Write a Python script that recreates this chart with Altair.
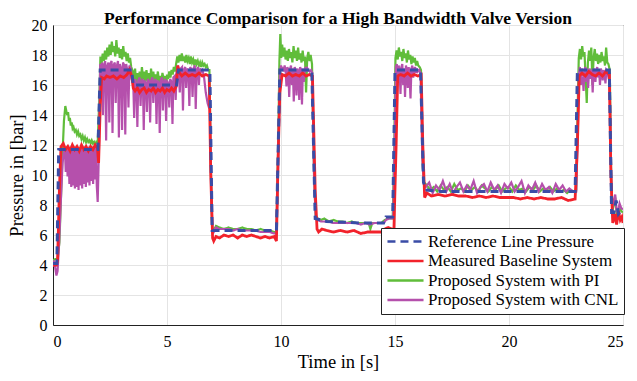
import altair as alt
import pandas as pd

SERIES = ["Reference Line Pressure", "Measured Baseline System",
          "Proposed System with PI", "Proposed System with CNL"]
COLORS = ["#3a4ca6", "#f2222b", "#60bd3a", "#b550ac"]
DASHES = [[8, 5], [1, 0], [1, 0], [1, 0]]
X_TICKS = [0, 5, 10, 15, 20, 25]
Y_TICKS = [0, 2, 4, 6, 8, 10, 12, 14, 16, 18, 20]
FONT = "Liberation Serif, Times New Roman, serif"

ref_pts = [(0.00, 4.1), (0.17, 4.1), (0.25, 11.7), (1.97, 11.7), (2.07, 17.0), (3.45, 17.0),
           (3.52, 16.0), (5.42, 16.0), (5.50, 17.0), (6.88, 17.0), (6.98, 6.3), (9.80, 6.3),
           (9.95, 17.0), (11.35, 17.0), (11.50, 7.1), (12.00, 6.9), (13.50, 6.8), (14.50, 6.8),
           (14.60, 7.2), (14.90, 7.2), (15.00, 17.0), (16.12, 17.0), (16.25, 9.5), (16.40, 9.0),
           (17.00, 8.9), (22.90, 8.9), (23.00, 17.0), (24.40, 17.0), (24.50, 7.5), (24.60, 7.5),
           (24.70, 8.3), (24.80, 7.4), (24.90, 7.6), (25.00, 7.5)]

baseline_pts = [(0.00, 4.0), (0.15, 4.0), (0.20, 4.3), (0.28, 9.0), (0.35, 11.9), (0.45, 12.1),
                (0.55, 11.7), (0.65, 11.9), (0.75, 11.6), (0.85, 12.0), (0.95, 11.7), (1.05, 11.9),
                (1.15, 11.6), (1.25, 12.0), (1.35, 11.7), (1.45, 11.9), (1.55, 11.6), (1.65, 11.9),
                (1.75, 11.7), (1.85, 12.0), (1.95, 11.8), (2.00, 10.8), (2.07, 14.5), (2.13, 16.5),
                (2.25, 16.4), (2.35, 16.6), (2.50, 16.5), (2.65, 16.6), (2.80, 16.4), (2.95, 16.6),
                (3.10, 16.5), (3.25, 16.7), (3.35, 17.0), (3.45, 16.6), (3.52, 15.8), (3.60, 15.6),
                (3.70, 15.8), (3.80, 15.5), (3.90, 15.7), (4.00, 15.8), (4.10, 15.5), (4.20, 15.7),
                (4.30, 15.6), (4.40, 15.8), (4.50, 15.5), (4.60, 15.7), (4.70, 15.6), (4.80, 15.8),
                (4.90, 15.5), (5.00, 15.7), (5.10, 15.6), (5.20, 15.8), (5.30, 15.6), (5.40, 15.9),
                (5.47, 17.3), (5.55, 16.8), (5.65, 16.6), (5.80, 16.8), (5.95, 16.6), (6.10, 16.7),
                (6.25, 16.6), (6.40, 16.8), (6.55, 16.6), (6.70, 16.7), (6.85, 16.6), (6.92, 10.0),
                (7.00, 5.8), (7.05, 5.6), (7.15, 5.9), (7.30, 5.8), (7.50, 6.0), (7.70, 5.9),
                (7.90, 6.0), (8.10, 5.8), (8.30, 6.0), (8.50, 5.9), (8.70, 6.0), (8.90, 5.9),
                (9.10, 5.8), (9.30, 5.9), (9.50, 5.8), (9.70, 5.9), (9.80, 5.6), (9.87, 11.0),
                (9.95, 15.5), (10.05, 16.7), (10.20, 16.6), (10.35, 16.8), (10.50, 16.6), (10.65, 16.7),
                (10.80, 16.6), (10.95, 16.8), (11.10, 16.6), (11.25, 16.7), (11.38, 16.6), (11.50, 9.0),
                (11.58, 6.4), (11.65, 6.2), (11.80, 6.4), (12.00, 6.3), (12.30, 6.2), (12.60, 6.3),
                (12.90, 6.2), (13.20, 6.3), (13.50, 6.1), (13.80, 6.2), (14.10, 6.2), (14.40, 6.2),
                (14.55, 6.4), (14.70, 6.5), (14.85, 6.4), (14.95, 6.2), (15.05, 12.0), (15.12, 16.6),
                (15.25, 16.7), (15.40, 16.6), (15.55, 16.8), (15.70, 16.6), (15.85, 16.7), (16.00, 16.6),
                (16.15, 16.7), (16.22, 12.0), (16.30, 8.5), (16.40, 8.8), (16.60, 8.6), (16.90, 8.7),
                (17.20, 8.6), (17.50, 8.7), (17.80, 8.6), (18.10, 8.6), (18.40, 8.5), (18.70, 8.6),
                (19.00, 8.5), (19.30, 8.6), (19.60, 8.5), (19.90, 8.5), (20.20, 8.5), (20.50, 8.4),
                (20.80, 8.5), (21.10, 8.4), (21.40, 8.5), (21.70, 8.4), (22.00, 8.4), (22.30, 8.5),
                (22.60, 8.3), (22.90, 8.4), (23.00, 12.0), (23.08, 16.6), (23.20, 16.8), (23.35, 16.6),
                (23.50, 16.9), (23.65, 16.7), (23.80, 16.6), (23.95, 16.8), (24.10, 16.6), (24.25, 16.9),
                (24.40, 16.7), (24.47, 10.0), (24.55, 6.8), (24.65, 7.4), (24.72, 6.7), (24.80, 7.6),
                (24.88, 7.0), (24.95, 7.2), (25.00, 6.8)]

pi_pts = [(0.00, 4.3), (0.10, 4.4), (0.20, 4.4), (0.28, 5.5), (0.35, 8.5), (0.42, 11.5), (0.48, 13.6),
          (0.54, 14.6), (0.58, 14.3), (0.62, 14.0), (0.66, 14.2), (0.70, 13.6), (0.74, 13.8),
          (0.78, 13.3), (0.82, 13.5), (0.86, 13.1), (0.90, 13.2), (0.95, 12.9), (1.00, 13.0),
          (1.05, 12.7), (1.10, 12.9), (1.15, 12.6), (1.20, 12.7), (1.25, 12.4), (1.30, 12.6),
          (1.35, 12.3), (1.40, 12.5), (1.45, 12.2), (1.50, 12.4), (1.55, 12.2), (1.60, 12.3),
          (1.65, 12.1), (1.70, 12.3), (1.75, 12.1), (1.80, 12.2), (1.85, 12.0), (1.90, 12.2),
          (1.96, 12.1), (2.03, 15.0), (2.08, 17.9), (2.13, 17.4), (2.18, 18.1), (2.23, 17.6),
          (2.28, 18.3), (2.33, 17.7), (2.38, 18.5), (2.43, 17.9), (2.48, 18.7), (2.53, 18.0),
          (2.58, 18.9), (2.63, 18.2), (2.68, 18.6), (2.73, 17.9), (2.78, 19.0), (2.83, 18.1),
          (2.88, 18.5), (2.93, 17.8), (2.98, 18.4), (3.03, 17.7), (3.08, 18.6), (3.13, 17.9),
          (3.18, 18.2), (3.23, 17.6), (3.28, 18.1), (3.33, 17.5), (3.38, 17.8), (3.43, 17.2),
          (3.50, 16.9), (3.55, 16.3), (3.60, 17.1), (3.65, 16.0), (3.70, 16.8), (3.75, 15.4),
          (3.80, 16.9), (3.85, 16.2), (3.90, 17.2), (3.95, 16.4), (4.00, 16.9), (4.05, 16.1),
          (4.10, 17.0), (4.15, 16.3), (4.20, 16.8), (4.25, 15.8), (4.30, 17.1), (4.35, 16.4),
          (4.40, 16.9), (4.45, 16.2), (4.50, 16.7), (4.55, 16.3), (4.60, 16.9), (4.65, 16.1),
          (4.70, 16.6), (4.75, 16.2), (4.80, 16.8), (4.85, 16.4), (4.90, 16.6), (4.95, 15.6),
          (5.00, 16.7), (5.05, 16.4), (5.10, 16.9), (5.15, 16.5), (5.20, 17.0), (5.25, 16.7),
          (5.30, 17.2), (5.35, 16.9), (5.40, 17.4), (5.45, 17.9), (5.50, 17.5), (5.55, 18.0),
          (5.60, 17.6), (5.65, 18.1), (5.70, 17.6), (5.75, 17.9), (5.80, 17.5), (5.85, 18.0),
          (5.90, 17.6), (5.95, 17.8), (6.00, 17.4), (6.05, 17.9), (6.10, 17.5), (6.15, 17.7),
          (6.20, 17.3), (6.25, 17.7), (6.30, 17.4), (6.35, 17.6), (6.40, 17.3), (6.45, 17.5),
          (6.50, 17.2), (6.55, 17.5), (6.60, 17.3), (6.65, 17.4), (6.70, 17.2), (6.75, 17.3),
          (6.80, 17.0), (6.86, 17.0), (6.93, 10.0), (6.98, 6.5), (7.05, 6.3), (7.15, 6.6),
          (7.30, 6.5), (7.50, 6.4), (7.70, 6.5), (7.90, 6.4), (8.10, 6.4), (8.30, 6.5),
          (8.50, 6.4), (8.70, 6.4), (8.90, 6.3), (9.10, 6.4), (9.30, 6.3), (9.50, 6.3),
          (9.70, 6.2), (9.80, 6.2), (9.88, 12.0), (9.93, 17.6), (9.97, 19.4), (10.01, 17.8),
          (10.05, 18.7), (10.10, 17.9), (10.15, 18.5), (10.20, 17.7), (10.25, 18.3), (10.30, 17.6),
          (10.35, 18.4), (10.40, 17.8), (10.45, 18.2), (10.50, 17.5), (10.55, 18.6), (10.60, 17.8),
          (10.65, 18.3), (10.70, 17.6), (10.75, 18.5), (10.80, 17.7), (10.85, 18.1), (10.90, 17.5),
          (10.95, 18.3), (11.00, 17.6), (11.05, 17.9), (11.10, 15.5), (11.15, 17.8), (11.20, 18.2),
          (11.25, 17.6), (11.30, 18.0), (11.36, 17.4), (11.45, 10.0), (11.52, 7.3), (11.60, 7.1),
          (11.75, 7.0), (11.90, 7.1), (12.10, 6.9), (12.30, 7.0), (12.50, 6.9), (12.70, 6.9),
          (12.90, 6.8), (13.10, 6.9), (13.30, 6.8), (13.50, 6.8), (13.70, 6.8), (13.85, 6.8),
          (13.92, 6.4), (14.00, 6.8), (14.20, 6.8), (14.40, 6.8), (14.55, 7.0), (14.70, 7.1),
          (14.90, 7.1), (14.97, 12.0), (15.02, 17.8), (15.07, 18.3), (15.12, 17.7), (15.17, 18.5),
          (15.22, 17.9), (15.27, 18.2), (15.32, 17.6), (15.37, 18.4), (15.42, 17.8), (15.47, 18.1),
          (15.52, 17.5), (15.57, 18.3), (15.62, 17.7), (15.67, 18.0), (15.72, 17.4), (15.77, 17.9),
          (15.82, 17.5), (15.87, 17.8), (15.92, 17.3), (15.97, 17.6), (16.02, 17.3), (16.08, 17.2),
          (16.14, 17.0), (16.22, 10.5), (16.28, 9.5),
          (16.40, 9.3), (16.55, 9.0), (16.70, 9.2), (16.85, 8.9), (17.00, 9.3), (17.15, 9.0),
          (17.30, 9.2), (17.45, 8.9), (17.60, 9.4), (17.75, 9.0), (17.90, 9.1), (18.05, 8.9),
          (18.20, 9.3), (18.35, 9.0), (18.50, 9.2), (18.65, 8.9), (18.80, 9.3), (18.95, 9.1),
          (19.10, 8.9), (19.25, 9.2), (19.40, 9.0), (19.55, 9.3), (19.70, 8.9), (19.85, 9.1),
          (20.00, 9.2), (20.15, 8.9), (20.30, 9.3), (20.45, 9.0), (20.60, 9.1), (20.75, 8.9),
          (20.90, 9.2), (21.05, 9.0), (21.20, 9.3), (21.35, 8.9), (21.50, 9.1), (21.65, 9.0),
          (21.80, 9.2), (21.95, 8.9), (22.10, 9.1), (22.25, 8.9), (22.40, 9.0), (22.55, 8.8),
          (22.70, 9.0), (22.85, 8.9), (22.95, 9.0),
          (23.02, 15.0), (23.06, 17.8), (23.11, 18.4), (23.16, 17.7), (23.21, 18.6), (23.26, 17.9),
          (23.31, 18.2), (23.36, 16.5), (23.41, 14.8), (23.46, 17.5), (23.51, 18.3), (23.56, 17.6),
          (23.61, 18.5), (23.66, 16.0), (23.71, 17.8), (23.76, 18.4), (23.81, 17.6), (23.86, 18.1),
          (23.91, 17.4), (23.96, 18.0), (24.01, 17.5), (24.06, 18.2), (24.11, 17.6), (24.16, 17.9),
          (24.21, 17.3), (24.26, 18.5), (24.31, 17.5), (24.36, 17.4), (24.42, 17.0), (24.48, 10.0),
          (24.53, 7.6), (24.60, 8.0), (24.66, 8.5), (24.72, 7.4), (24.78, 7.3), (24.85, 7.9),
          (24.92, 7.6), (25.00, 7.5)]

cnl_pts = [(0.00, 3.9), (0.06, 4.3), (0.10, 3.8), (0.15, 3.3), (0.20, 3.6), (0.27, 5.5), (0.35, 8.5),
           (0.42, 10.8), (0.48, 11.6), (0.52, 11.8), (0.56, 10.2), (0.60, 11.9), (0.64, 9.9),
           (0.68, 11.7), (0.72, 9.4), (0.76, 11.9), (0.80, 9.2), (0.84, 11.8), (0.88, 9.3),
           (0.92, 11.9), (0.96, 9.1), (1.00, 11.7), (1.04, 9.2), (1.08, 11.9), (1.12, 9.0),
           (1.16, 11.8), (1.20, 9.3), (1.24, 11.9), (1.28, 9.1), (1.32, 11.7), (1.36, 9.4),
           (1.40, 11.9), (1.44, 9.2), (1.48, 11.8), (1.52, 9.5), (1.56, 11.9), (1.60, 9.3),
           (1.64, 11.7), (1.68, 9.6), (1.72, 11.9), (1.76, 9.4), (1.80, 11.8), (1.84, 9.7),
           (1.88, 11.9), (1.92, 9.3), (1.96, 8.2), (2.02, 12.0), (2.07, 17.4), (2.11, 16.9),
           (2.15, 17.5), (2.19, 14.0), (2.23, 17.3), (2.29, 17.6), (2.33, 12.3), (2.37, 17.2),
           (2.43, 17.5), (2.47, 13.5), (2.51, 17.4), (2.57, 17.6), (2.61, 12.8), (2.65, 17.3),
           (2.71, 17.5), (2.75, 14.8), (2.79, 17.2), (2.85, 17.6), (2.89, 12.5), (2.93, 17.4),
           (2.99, 17.1), (3.03, 13.0), (3.07, 17.5), (3.13, 17.3), (3.17, 12.7), (3.21, 17.4),
           (3.27, 16.9), (3.31, 14.5), (3.35, 17.3), (3.41, 17.1), (3.45, 16.4),
           (3.52, 16.2), (3.56, 13.8), (3.60, 16.4), (3.66, 16.0), (3.70, 13.2), (3.74, 16.3),
           (3.80, 16.5), (3.84, 14.6), (3.88, 16.2), (3.94, 16.4), (3.98, 13.0), (4.02, 16.3),
           (4.08, 16.1), (4.12, 14.2), (4.16, 16.4), (4.22, 16.2), (4.26, 13.5), (4.30, 16.3),
           (4.36, 16.5), (4.40, 14.8), (4.44, 16.2), (4.50, 16.4), (4.54, 13.4), (4.58, 16.3),
           (4.64, 16.1), (4.68, 12.8), (4.72, 16.3), (4.78, 16.5), (4.82, 14.3), (4.86, 16.2),
           (4.92, 16.4), (4.96, 13.6), (5.00, 16.3), (5.06, 16.1), (5.10, 14.5), (5.14, 16.4),
           (5.20, 16.2), (5.24, 13.4), (5.28, 16.5), (5.34, 16.6), (5.38, 15.0), (5.42, 16.8),
           (5.48, 17.3), (5.52, 16.8), (5.56, 15.5), (5.60, 17.1), (5.66, 17.2), (5.70, 14.3),
           (5.74, 17.0), (5.80, 17.2), (5.84, 15.8), (5.88, 17.1), (5.94, 16.9), (5.98, 14.6),
           (6.02, 17.2), (6.08, 17.0), (6.12, 15.2), (6.16, 17.1), (6.22, 17.3), (6.26, 14.4),
           (6.30, 17.0), (6.36, 17.2), (6.40, 16.0), (6.44, 17.1), (6.50, 16.9),
           (6.55, 17.0), (6.62, 16.6), (6.70, 15.5), (6.78, 14.8), (6.84, 14.5),
           (6.88, 14.4), (6.94, 9.0), (6.99, 6.4), (7.05, 6.2), (7.15, 6.5), (7.30, 6.4),
           (7.50, 6.4), (7.70, 6.4), (7.90, 6.3), (8.10, 6.4), (8.30, 6.3), (8.50, 6.3),
           (8.70, 6.3), (8.90, 6.3), (9.10, 6.2), (9.30, 6.2), (9.50, 6.2), (9.70, 6.1),
           (9.80, 6.1), (9.88, 11.0), (9.95, 16.8), (10.00, 17.3), (10.04, 17.0), (10.08, 17.2),
           (10.12, 16.9), (10.16, 17.3), (10.20, 17.0), (10.24, 15.9), (10.28, 17.2), (10.32, 17.0),
           (10.36, 15.2), (10.40, 17.1), (10.44, 17.3), (10.48, 16.0), (10.52, 17.1), (10.56, 14.9),
           (10.60, 17.2), (10.64, 17.0), (10.68, 15.3), (10.72, 17.1), (10.76, 16.9), (10.80, 15.0),
           (10.84, 17.2), (10.88, 17.0), (10.92, 14.7), (10.96, 17.1), (11.00, 16.2), (11.04, 17.0),
           (11.08, 17.2), (11.12, 16.9), (11.16, 17.1), (11.20, 17.0), (11.26, 16.9), (11.32, 17.0),
           (11.37, 16.8), (11.45, 10.0), (11.52, 7.2), (11.60, 7.0), (11.75, 6.9), (11.90, 6.9),
           (12.10, 6.9), (12.30, 6.8), (12.50, 6.8), (12.70, 6.8), (12.90, 6.8), (13.10, 6.8),
           (13.30, 6.8), (13.50, 6.7), (13.70, 6.8), (13.90, 6.7), (14.10, 6.8), (14.30, 6.8),
           (14.50, 6.8), (14.60, 7.0), (14.75, 7.1), (14.92, 7.1), (14.98, 12.0), (15.04, 17.2),
           (15.08, 17.4), (15.12, 16.2), (15.16, 17.3), (15.20, 17.0), (15.24, 15.4), (15.28, 17.2),
           (15.32, 17.4), (15.36, 16.0), (15.40, 17.1), (15.44, 15.2), (15.48, 17.3), (15.52, 17.0),
           (15.56, 15.8), (15.60, 17.2), (15.64, 16.6), (15.68, 15.1), (15.72, 17.1), (15.76, 17.3),
           (15.80, 16.5), (15.84, 17.0), (15.88, 17.2), (15.92, 16.8), (15.96, 17.1), (16.00, 16.9),
           (16.06, 17.0), (16.12, 16.8), (16.20, 11.0), (16.27, 9.4),
           (16.35, 9.2), (16.50, 9.5), (16.65, 8.8), (16.80, 9.3), (16.95, 9.0), (17.10, 9.6),
           (17.25, 8.9), (17.40, 9.4), (17.55, 8.8), (17.70, 9.2), (17.85, 9.5), (18.00, 8.9),
           (18.15, 9.3), (18.30, 9.0), (18.45, 9.6), (18.60, 8.8), (18.75, 9.2), (18.90, 9.4),
           (19.05, 8.9), (19.20, 9.5), (19.35, 9.0), (19.50, 9.3), (19.65, 8.8), (19.80, 9.4),
           (19.95, 9.1), (20.10, 9.5), (20.25, 8.9), (20.40, 9.2), (20.55, 9.6), (20.70, 8.8),
           (20.85, 9.3), (21.00, 9.0), (21.15, 9.5), (21.30, 8.9), (21.45, 9.4), (21.60, 9.0),
           (21.75, 9.2), (21.90, 8.8), (22.05, 9.4), (22.20, 9.0), (22.35, 9.3), (22.50, 8.9),
           (22.65, 9.1), (22.80, 8.9), (22.95, 8.9),
           (23.02, 13.0), (23.07, 16.8), (23.11, 17.2), (23.15, 16.0), (23.19, 17.1), (23.23, 16.6),
           (23.27, 15.6), (23.31, 17.0), (23.35, 17.2), (23.39, 16.2), (23.43, 17.1), (23.47, 15.8),
           (23.51, 16.9), (23.55, 17.1), (23.59, 16.4), (23.63, 17.0), (23.67, 15.5), (23.71, 17.1),
           (23.75, 16.8), (23.79, 16.2), (23.83, 17.0), (23.87, 17.2), (23.91, 16.5), (23.95, 17.0),
           (23.99, 16.0), (24.03, 17.1), (24.07, 16.9), (24.11, 16.3), (24.15, 17.0), (24.19, 16.8),
           (24.23, 16.1), (24.27, 17.0), (24.31, 16.9), (24.35, 16.6), (24.41, 16.8), (24.47, 10.5),
           (24.53, 7.8), (24.60, 8.3), (24.66, 8.7), (24.72, 7.6), (24.78, 7.5), (24.85, 8.1),
           (24.92, 7.8), (25.00, 7.7)]


def frame(pts, name):
    return pd.DataFrame({"t": [p[0] for p in pts],
                         "p": [p[1] for p in pts],
                         "series": name})


legend = alt.Legend(title=None, orient="none", legendX=328, legendY=203,
                    strokeColor="#222222", fillColor="white", padding=5,
                    symbolType="stroke", symbolSize=1300, symbolStrokeWidth=2.5,
                    clipHeight=17, rowPadding=1.5, labelOffset=3, labelLimit=400,
                    labelFont=FONT, labelFontSize=17, labelColor="black")

x_enc = alt.X("t:Q", scale=alt.Scale(domain=[0, 25], nice=False, zero=False),
              axis=alt.Axis(values=X_TICKS, title="Time in [s]", format="d"))
y_enc = alt.Y("p:Q", scale=alt.Scale(domain=[0, 20], nice=False),
              axis=alt.Axis(values=Y_TICKS, title="Pressure in [bar]", format="d"))
color_enc = alt.Color("series:N", scale=alt.Scale(domain=SERIES, range=COLORS), legend=legend)
dash_enc = alt.StrokeDash("series:N", scale=alt.Scale(domain=SERIES, range=DASHES), legend=legend)


def layer(pts, name, width):
    return alt.Chart(frame(pts, name)).mark_line(strokeWidth=width, clip=True).encode(
        x=x_enc, y=y_enc, color=color_enc, strokeDash=dash_enc)


chart = alt.layer(
    layer(pi_pts, SERIES[2], 2.2),
    layer(cnl_pts, SERIES[3], 2.2),
    layer(baseline_pts, SERIES[1], 2.8),
    layer(ref_pts, SERIES[0], 3.0),
).properties(
    width=570, height=300,
    title="Performance Comparison for a High Bandwidth Valve Version",
    autosize=alt.AutoSizeParams(type="none"),
    padding={"left": 45, "top": 17, "right": 6, "bottom": 48},
).configure_view(
    stroke="#222222", strokeWidth=1
).configure_axis(
    gridColor="#e4e4e4", gridWidth=1, domainColor="#222222", ticks=False,
    labelFont=FONT, labelFontSize=16, labelColor="black",
    titleFont=FONT, titleFontSize=18.5, titleFontWeight="normal", titleColor="black",
).configure_axisX(
    labelPadding=8, titlePadding=3
).configure_axisY(
    labelPadding=6, titlePadding=5
).configure_title(
    font=FONT, fontSize=17.5, fontWeight="bold", color="black",
    anchor="middle", offset=-10
)

chart.save("out.html", embed_options={"renderer": "svg", "actions": False})
